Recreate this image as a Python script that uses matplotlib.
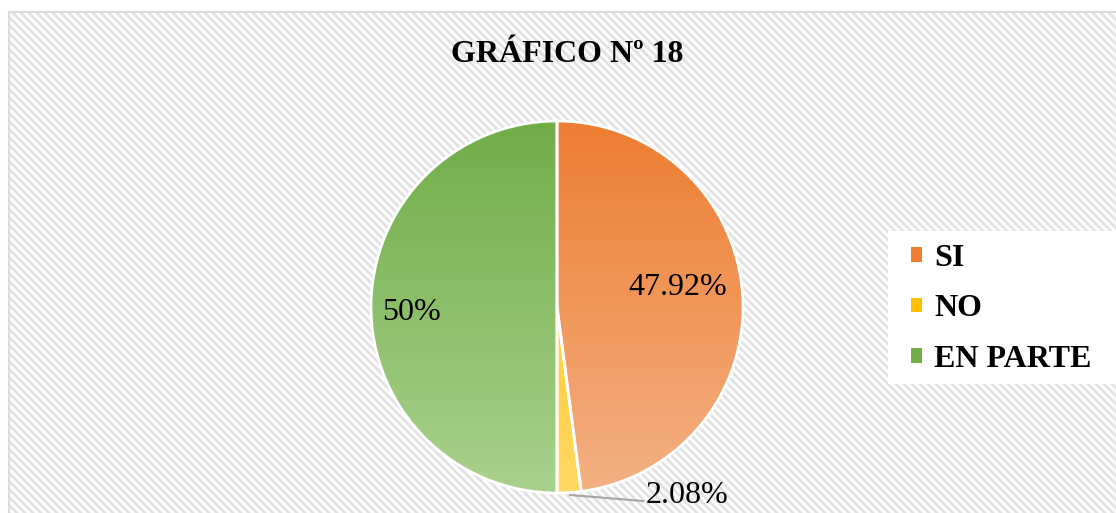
import numpy as np
import matplotlib.pyplot as plt
from matplotlib.patches import Patch, Rectangle
from matplotlib.colors import to_rgb

# data
categories = ['SI', 'NO', 'EN PARTE']
values = [47.92, 2.08, 50.0]
pct_labels = ['47.92%', '2.08%', '50%']
top_colors = ['#ED7D31', '#FFC000', '#70AD47']
bottom_colors = ['#F4B183', '#FFD966', '#A9D18E']
title = 'GRÁFICO Nº 18'

W, H = 1116, 513
plt.rcParams['font.family'] = ['Liberation Serif', 'DejaVu Serif']

fig = plt.figure(figsize=(W / 100, H / 100), dpi=100)

# striped chart background (pixel coords, y down)
bg = fig.add_axes([0, 0, 1, 1])
yy, xx = np.mgrid[0:H, 0:W]
wave = 0.5 + 0.5 * np.cos(2 * np.pi * (xx - yy) / 8.0)
shade = 1 - 0.12 * wave
shade[(yy < 11) | (xx < 8)] = 1.0
bg.imshow(np.dstack([shade] * 3), interpolation='nearest', aspect='auto')
bg.plot([8, 8], [11, H], color='#D9D9D9', lw=1.5)
bg.plot([8, W], [11, 11], color='#D9D9D9', lw=1.5)
bg.add_patch(Rectangle((887, 230), W - 887, 153, facecolor='white', edgecolor='none'))
bg.set_xlim(-0.5, W - 0.5)
bg.set_ylim(H - 0.5, -0.5)
bg.axis('off')

# pie in pixel coords (y up)
ax = fig.add_axes([0, 0, 1, 1])
ax.patch.set_alpha(0)
cx, cy, r = 557, 206, 186
wedges, _ = ax.pie(values, center=(cx, cy), radius=r, startangle=90,
                   counterclock=False,
                   wedgeprops=dict(facecolor='none', edgecolor='white',
                                   linewidth=2, zorder=3))
for w, c0, c1 in zip(wedges, top_colors, bottom_colors):
    t = np.linspace(0, 1, 256)[:, None, None]
    grad = (1 - t) * np.array(to_rgb(c0)) + t * np.array(to_rgb(c1))
    im = ax.imshow(grad, extent=(cx - r, cx + r, cy - r, cy + r),
                   origin='upper', aspect='auto', zorder=2)
    im.set_clip_path(w)

# data labels
ax.text(628, H - 295, pct_labels[0], fontsize=23, ha='left', va='baseline')
ax.text(382, H - 320, pct_labels[2], fontsize=23, ha='left', va='baseline')
ax.text(646, H - 503, pct_labels[1], fontsize=23, ha='left', va='baseline')
ax.plot([570, 643], [H - 495, H - 501], color='#A6A6A6', lw=1.5, zorder=4)

ax.set_xlim(0, W)
ax.set_ylim(0, H)
ax.set_aspect('auto')
ax.axis('off')

fig.text(567 / W, 1 - 54 / H, title, ha='center', va='center',
         fontsize=23, fontweight='bold')

handles = [Patch(facecolor=c) for c in top_colors]
fig.legend(handles, categories, loc='upper left',
           bbox_to_anchor=(911 / W, 1 - 244 / H), frameon=False,
           prop={'weight': 'bold', 'size': 23}, handlelength=0.33,
           handleheight=0.33, handletextpad=0.4, labelspacing=0.67,
           borderpad=0, borderaxespad=0)

fig.savefig('out.png', dpi=100)
